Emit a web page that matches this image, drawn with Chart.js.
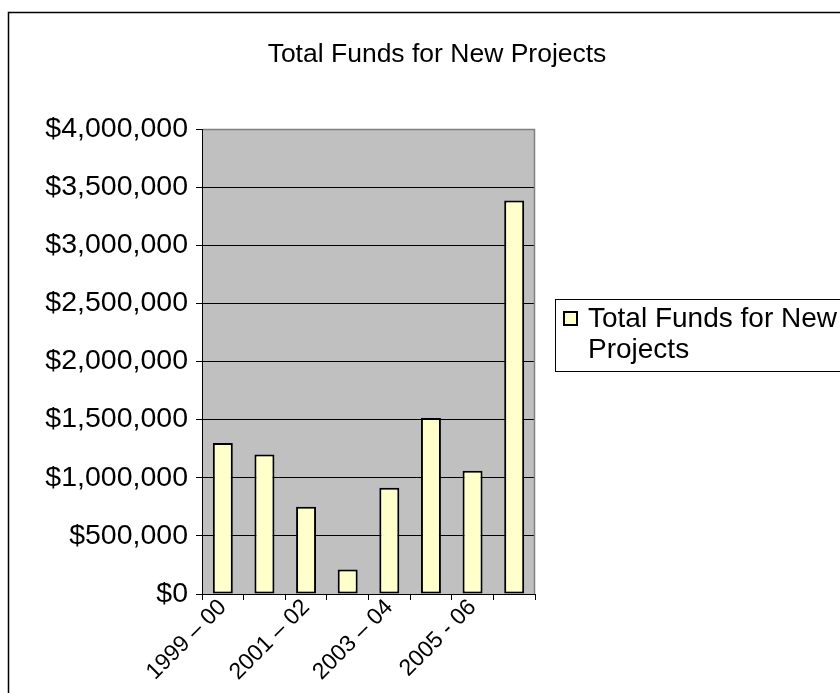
<!DOCTYPE html>
<html>
<head>
<meta charset="utf-8">
<script src="https://cdn.jsdelivr.net/npm/chart.js@4.4.1/dist/chart.umd.min.js"></script>
<style>
  html, body { margin: 0; padding: 0; background: #fff; }
  #wrap { width: 840px; height: 693px; }
</style>
</head>
<body>
<div id="wrap"><canvas id="fundsChart" width="840" height="693"></canvas></div>
<script>
// Data
const chartTitle = 'Total Funds for New Projects';
const seriesName = 'Total Funds for New Projects';
const years = ['1999 – 00', '2000 – 01', '2001 – 02', '2002 – 03', '2003 – 04', '2004 – 05', '2005 - 06', '2006 - 07'];
const shownYears = ['1999 – 00', '2001 – 02', '2003 – 04', '2005 - 06'];
const funds = [1300000, 1200000, 750000, 210000, 915000, 1515000, 1060000, 3385000];
const yTicks = [0, 500000, 1000000, 1500000, 2000000, 2500000, 3000000, 3500000, 4000000];

const FONT = "'Liberation Sans', Arial, sans-serif";

function wrapText(ctx, text, maxWidth) {
  const words = text.split(' ');
  const lines = [];
  let line = '';
  words.forEach(w => {
    const test = line ? line + ' ' + w : w;
    if (ctx.measureText(test).width > maxWidth && line) {
      lines.push(line);
      line = w;
    } else {
      line = test;
    }
  });
  if (line) lines.push(line);
  return lines;
}

/*--------------------- Frame, plot area, title, legend ---------------------*/
const excelFrame = {
  id: 'excelFrame',
  beforeDraw(chart) {
    const { ctx, chartArea: a } = chart;
    ctx.save();
    ctx.fillStyle = '#fff';
    ctx.fillRect(0, 0, chart.width, chart.height);
    ctx.strokeStyle = '#000';
    ctx.lineWidth = 1.5;
    ctx.strokeRect(8.5, 12.5, 1000, 1000);
    ctx.fillStyle = '#c0c0c0';
    ctx.fillRect(a.left, a.top, a.right - a.left, a.bottom - a.top);
    ctx.restore();
  },
  afterDraw(chart) {
    const { ctx, chartArea: a } = chart;
    ctx.save();
    // gray edge along top and right of the plot area
    ctx.strokeStyle = '#808080';
    ctx.lineWidth = 1.5;
    ctx.beginPath();
    ctx.moveTo(a.left + 1, a.top + 0.5);
    ctx.lineTo(a.right - 0.5, a.top + 0.5);
    ctx.lineTo(a.right - 0.5, a.bottom);
    ctx.stroke();

    // title
    ctx.fillStyle = '#000';
    ctx.font = `26.5px ${FONT}`;
    ctx.textAlign = 'center';
    ctx.textBaseline = 'middle';
    ctx.fillText(chartTitle, 437, 55);

    // legend
    ctx.font = `28px ${FONT}`;
    ctx.strokeStyle = '#000';
    ctx.lineWidth = 1;
    ctx.strokeRect(555.5, 299.5, 400, 72);
    ctx.fillStyle = '#ffffcc';
    ctx.fillRect(564, 312, 13, 13);
    ctx.lineWidth = 2;
    ctx.strokeRect(564, 312, 13, 13);
    ctx.fillStyle = '#000';
    ctx.textAlign = 'left';
    const lines = wrapText(ctx, seriesName, 256);
    lines.forEach((ln, i) => ctx.fillText(ln, 588, 319 + i * 31));
    ctx.restore();
  }
};

/*--------------------- Bar chart ---------------------*/
const ctx = document.getElementById('fundsChart').getContext('2d');
new Chart(ctx, {
  type: 'bar',
  data: {
    labels: years,
    datasets: [{
      label: seriesName,
      data: funds,
      backgroundColor: '#ffffcc',
      borderColor: '#000',
      borderWidth: 2,
      borderSkipped: false,
      barPercentage: 0.48,
      categoryPercentage: 1
    }]
  },
  options: {
    responsive: false,
    animation: false,
    layout: { padding: { top: 129, right: 305, bottom: 0, left: 0 } },
    plugins: {
      legend: { display: false },
      title: { display: false },
      tooltip: { enabled: false }
    },
    scales: {
      x: {
        afterFit: s => { s.height = 99; },
        grid: { offset: true, drawOnChartArea: false, drawTicks: true, tickLength: 6, color: '#000' },
        border: { color: '#000', width: 1 },
        ticks: {
          autoSkip: false,
          minRotation: 45,
          maxRotation: 45,
          padding: -6,
          color: '#000',
          font: { family: FONT, size: 23 },
          callback(value, index) {
            const lbl = years[index];
            return shownYears.includes(lbl) ? lbl : '';
          }
        }
      },
      y: {
        min: yTicks[0],
        max: yTicks[yTicks.length - 1],
        afterBuildTicks: axis => { axis.ticks = yTicks.map(v => ({ value: v })); },
        afterFit: s => { s.width = 202; },
        grid: { color: '#000', lineWidth: 1, tickLength: 6 },
        border: { color: '#000', width: 1 },
        ticks: {
          padding: 8,
          color: '#000',
          font: { family: FONT, size: 28.5 },
          callback: v => '$' + Number(v).toLocaleString('en-US')
        }
      }
    }
  },
  plugins: [excelFrame]
});
</script>
</body>
</html>
